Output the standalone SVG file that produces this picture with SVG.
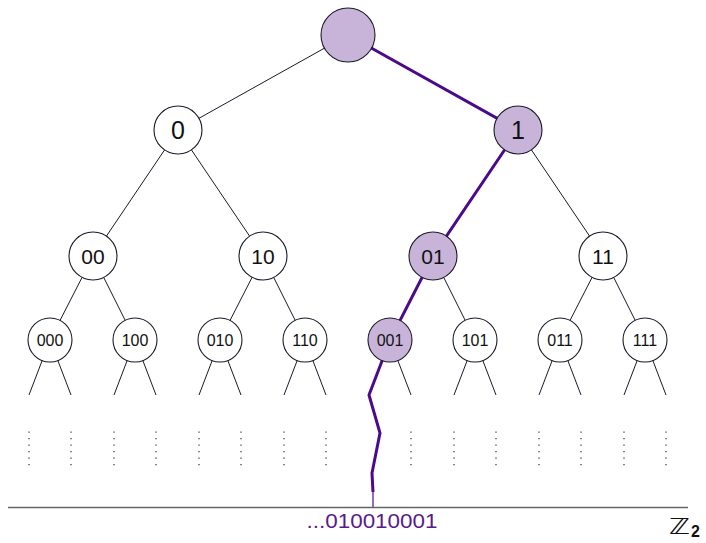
<svg xmlns="http://www.w3.org/2000/svg" width="706" height="543" viewBox="0 0 706 543">
<style>
.e{stroke:#1a1a2a;stroke-width:1;fill:none}
.p{stroke:#4b0a8c;stroke-width:3;fill:none;stroke-linejoin:miter}
.d{stroke:#333;stroke-width:1.2;stroke-dasharray:1.2 5.3;fill:none}
.n{fill:#fff;stroke:#1a1a2a;stroke-width:1.1}
.h{fill:#c8b4d9;stroke:#1a1a2a;stroke-width:1.1}
text{font-family:"Liberation Sans",Arial,sans-serif;fill:#111;text-anchor:middle}
.l1{font-size:25px}
.l2{font-size:21px}
.l3{font-size:16px}
</style>
<rect width="706" height="543" fill="#fff"/>
<g id="connectors">
<line class="e" x1="348" y1="35" x2="178" y2="130"/>
<line class="e" x1="178" y1="130" x2="93" y2="256"/>
<line class="e" x1="178" y1="130" x2="263" y2="256"/>
<line class="e" x1="518" y1="130" x2="603" y2="256"/>
<line class="e" x1="93" y1="256" x2="50" y2="340"/>
<line class="e" x1="93" y1="256" x2="135" y2="340"/>
<line class="e" x1="263" y1="256" x2="220" y2="340"/>
<line class="e" x1="263" y1="256" x2="305" y2="340"/>
<line class="e" x1="433" y1="256" x2="475" y2="340"/>
<line class="e" x1="603" y1="256" x2="560" y2="340"/>
<line class="e" x1="603" y1="256" x2="645" y2="340"/>
<path class="e" d="M50 340L29 395M50 340L71 395M135 340L114 395M135 340L156 395M220 340L199 395M220 340L241 395M305 340L284 395M305 340L326 395M390 340L411 395M475 340L454 395M475 340L496 395M560 340L539 395M560 340L581 395M645 340L624 395M645 340L666 395"/>
<path class="d" d="M29 431.5V466M71 431.5V466M114 431.5V466M156 431.5V466M199 431.5V466M241 431.5V466M284 431.5V466M326 431.5V466M411 431.5V466M454 431.5V466M496 431.5V466M539 431.5V466M581 431.5V466M624 431.5V466M666 431.5V466"/>
<path class="p" d="M348 35L518 130L433 256L390 340L369 395L380 433L372 473L373 492"/>
<line x1="373" y1="491" x2="373" y2="507" stroke="#4b0a8c" stroke-width="1.2"/>
<line x1="8" y1="507.5" x2="688" y2="507.5" stroke="#666" stroke-width="1.5"/>
</g>
<g id="root"><circle class="h" cx="348" cy="35" r="27"/></g>
<g id="n0"><circle class="n" cx="178" cy="130" r="24"/><text class="l1" x="178" y="139">0</text></g>
<g id="n1"><circle class="h" cx="518" cy="130" r="24"/><text class="l1" x="518" y="139">1</text></g>
<g id="n00"><circle class="n" cx="93" cy="256" r="24"/><text class="l2" x="93" y="264">00</text></g>
<g id="n10"><circle class="n" cx="263" cy="256" r="24"/><text class="l2" x="263" y="264">10</text></g>
<g id="n01"><circle class="h" cx="433" cy="256" r="24"/><text class="l2" x="433" y="264">01</text></g>
<g id="n11"><circle class="n" cx="603" cy="256" r="24"/><text class="l2" x="603" y="264">11</text></g>
<g id="n000"><circle class="n" cx="50" cy="340" r="22"/><text class="l3" x="50" y="346">000</text></g>
<g id="n100"><circle class="n" cx="135" cy="340" r="22"/><text class="l3" x="135" y="346">100</text></g>
<g id="n010"><circle class="n" cx="220" cy="340" r="22"/><text class="l3" x="220" y="346">010</text></g>
<g id="n110"><circle class="n" cx="305" cy="340" r="22"/><text class="l3" x="305" y="346">110</text></g>
<g id="n001"><circle class="h" cx="390" cy="340" r="22"/><text class="l3" x="390" y="346">001</text></g>
<g id="n101"><circle class="n" cx="475" cy="340" r="22"/><text class="l3" x="475" y="346">101</text></g>
<g id="n011"><circle class="n" cx="560" cy="340" r="22"/><text class="l3" x="560" y="346">011</text></g>
<g id="n111"><circle class="n" cx="645" cy="340" r="22"/><text class="l3" x="645" y="346">111</text></g>
<g id="labels">
<text x="372" y="528" style="font-size:21px;fill:#5a1a8c" textLength="131" lengthAdjust="spacingAndGlyphs">...010010001</text>
<text x="669" y="534" style="font-size:22px;font-family:'DejaVu Sans',sans-serif;text-anchor:start" textLength="21" lengthAdjust="spacingAndGlyphs">ℤ</text>
<text x="691" y="537" style="font-size:16px;font-weight:bold;text-anchor:start">2</text>
</g>
</svg>
